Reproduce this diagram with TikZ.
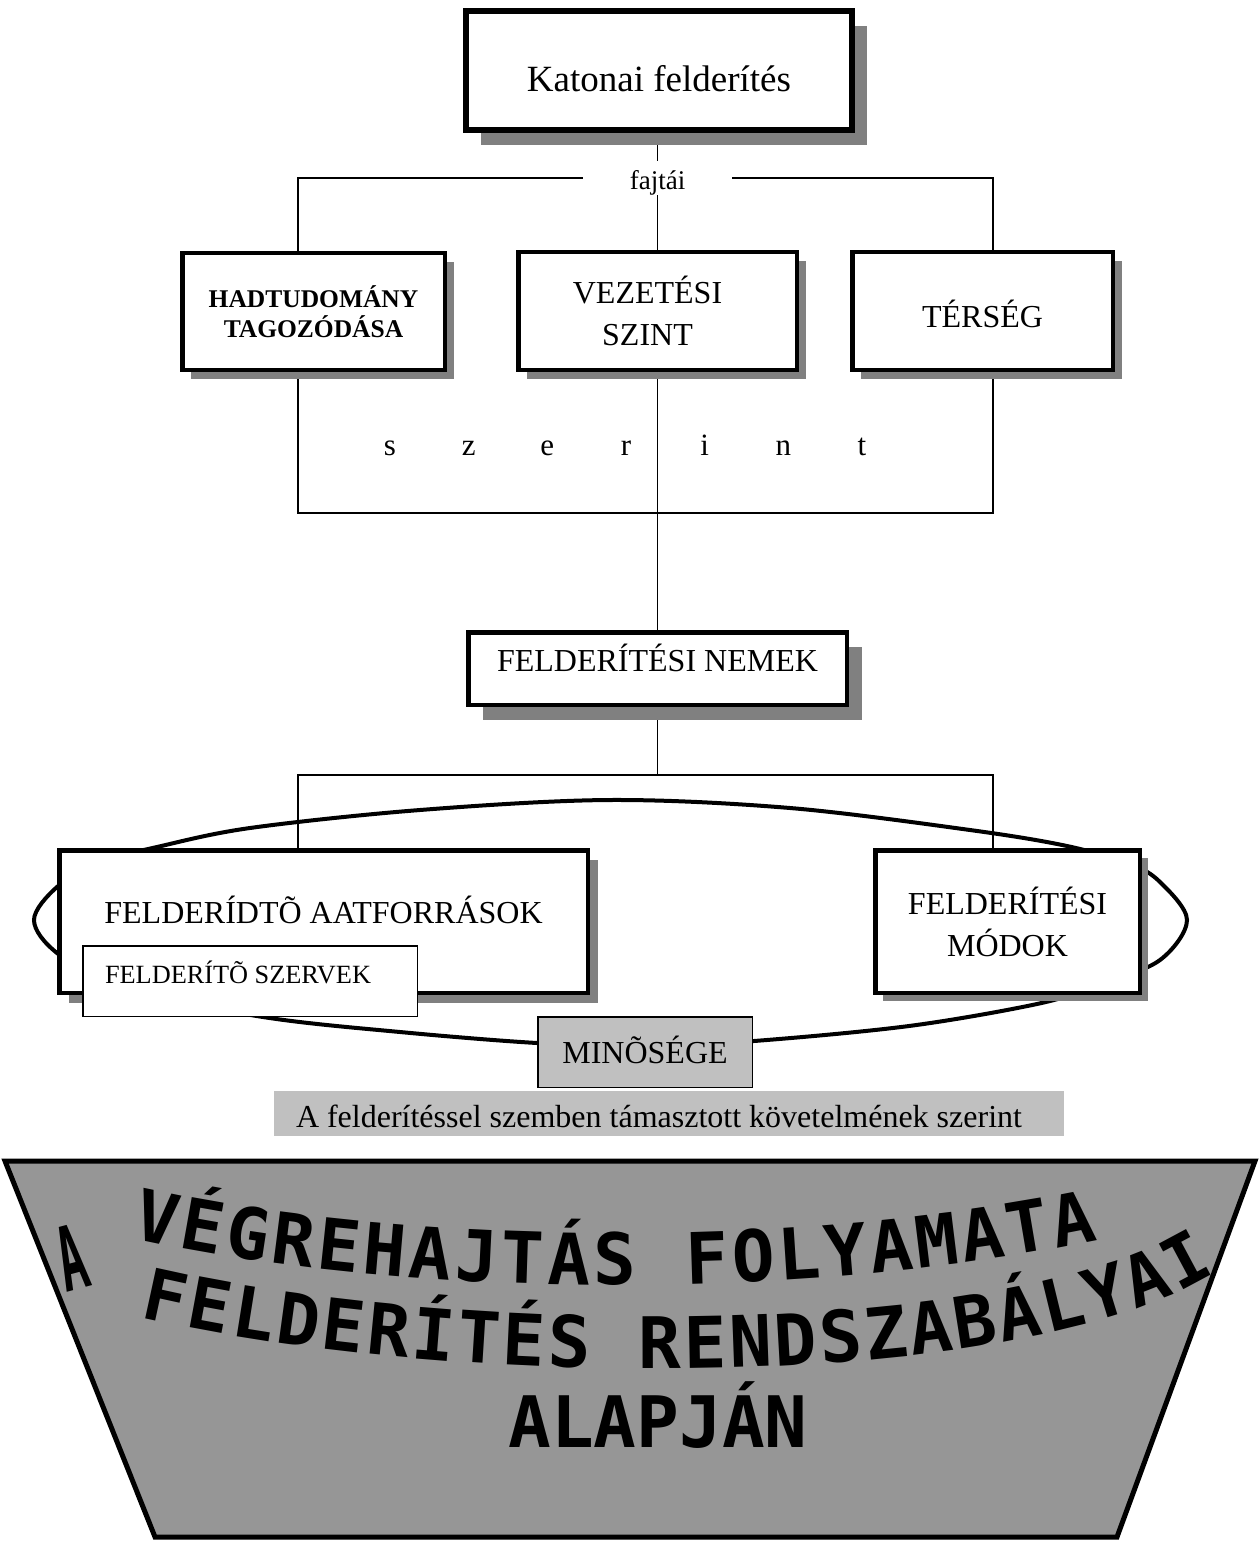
\documentclass[tikz,border=0pt]{standalone}
\usepackage{fontspec}
\setmainfont{Liberation Serif}
\newfontfamily\wfont{DejaVu Sans Mono}
\usetikzlibrary{shadows,decorations.text,backgrounds}
\definecolor{shgray}{RGB}{128,128,128}
\definecolor{lgray}{RGB}{192,192,192}
\definecolor{tgray}{RGB}{150,150,150}
\newcommand{\wfsize}{\wfont\bfseries\fontsize{71}{76}\selectfont}
\begin{document}
\begin{tikzpicture}[x=1pt,y=-1pt,
  link/.style={line width=1.5pt},
  sbox/.style={draw, line width=4.5pt, fill=white, inner sep=0pt, align=center,
     general shadow={fill=shgray, shadow xshift=#1, shadow yshift=-#1}},
  sbox/.default=9pt,
  lbl/.style={font=\fontsize{32}{42}\selectfont},
  thinbox/.style={draw, line width=1.5pt, inner sep=0pt},
  wtext/.style={font=\wfsize},
]
\useasboundingbox (0,0) rectangle (1259,1546);

% boxes
\node[sbox=15pt, line width=6pt, minimum width=386pt, text height=81pt, text depth=38pt,
      font=\fontsize{37}{44}\selectfont] (top) at (659,70.5) {Katonai felderítés};
\node[inner sep=0pt, minimum width=149pt, text height=29pt, text depth=5pt,
      font=\fontsize{27}{32}\selectfont] (fajtai) at (657.5,178) {fajtái};
\node[sbox, minimum width=262.5pt, minimum height=116.5pt,
      font=\bfseries\fontsize{25.5}{30}\selectfont] (had) at (313.5,311.5) {HADTUDOMÁNY\\TAGOZÓDÁSA};
\node[sbox, lbl, minimum width=278.5pt, minimum height=117.5pt] (vez) at (657.5,311)
  {VEZETÉSI\hspace*{20pt}\\SZINT\hspace*{20pt}};
\node[sbox, lbl, minimum width=260.5pt, text height=74.75pt, text depth=42.75pt] (ter) at (982.5,311) {TÉRSÉG};
\node[font=\fontsize{31}{36}\selectfont, anchor=base, inner sep=0pt] (szerint) at (626,455)
  {\makebox[78.67pt]{s}\makebox[78.67pt]{z}\makebox[78.67pt]{e}\makebox[78.67pt]{r}\makebox[78.67pt]{i}\makebox[78.67pt]{n}\makebox[78.67pt]{t}};
\node[sbox=15pt, lbl, minimum width=378.5pt, text height=38.75pt, text depth=33.75pt] (nemek) at (657.5,668.5) {FELDERÍTÉSI NEMEK};

\coordinate (cL) at (298,513);
\coordinate (cR) at (993,513);
\coordinate (dL) at (298,775);
\coordinate (dR) at (993,775);

\node[sbox=10pt, lbl, minimum width=528.5pt, text height=72.75pt, text depth=69.75pt] (aatf) at (323.5,921.5) {FELDERÍDTÕ AATFORRÁSOK};
\node[thinbox, fill=white, text height=37.75pt, text depth=32.75pt, font=\fontsize{26.3}{30}\selectfont] (szervek) at (250,981)
  {\makebox[334.5pt][l]{\hspace{22.25pt}FELDERÍTÕ SZERVEK}};
\node[sbox=8pt, lbl, minimum width=264.5pt, minimum height=142.5pt] (modok) at (1007.5,921.5) {FELDERÍTÉSI\\MÓDOK};

\node[inner sep=0pt, fill=lgray, text height=36pt, text depth=9pt, lbl] (band) at (669,1113.5)
  {\makebox[790pt][l]{\hspace{22pt}A felderítéssel szemben támasztott követelmének szerint}};
\node[thinbox, fill=lgray, lbl, minimum width=214.5pt, text height=46.25pt, text depth=24.25pt] (min) at (645,1052) {MINÕSÉGE};

\begin{pgfonlayer}{background}
  % ring
  \draw[line width=4pt] plot[smooth cycle, tension=0.55] coordinates {
    (610,800) (790,808) (970,830) (1067,846) (1130,864) (1160,882) (1187,920) (1160,960)
    (1100,985) (1037,1004) (909,1026) (754,1041) (645,1046) (537,1043) (400,1032)
    (263,1017) (120,988) (57,953) (34,920) (57,887) (100,862) (157,847) (250,828) (420,810)};
  % connectors
  \draw[link] (fajtai.north |- top.south) -- (fajtai.north);
  \draw[link] (fajtai.west) -| (had.north -| cL);
  \draw[link] (fajtai.east) -| (ter.north -| cR);
  \draw[link] (fajtai.south) -- (vez.north);
  \draw[link] (had.south -| cL) -- (cL) -- (cR) -- (ter.south -| cR);
  \draw[link] (vez.south) -- (nemek.north);
  \draw[link] (nemek.south) -- (nemek.south |- dL);
  \draw[link] (aatf.north -| dL) -- (dL) -- (dR) -- (modok.north -| dR);
\end{pgfonlayer}

% bottom trapezoid
\draw[line width=5pt, fill=tgray] (5,1161) -- (1255,1161) -- (1117,1537) -- (155,1537) -- cycle;
\node[wtext, rotate=15, inner sep=0pt] (wa) at (72,1258) {\scalebox{0.65}[1.25]{A}};
\path[decorate, decoration={text along path, text align=fit to path,
   text={|\wfsize|VÉGREHAJTÁS FOLYAMATA}}]
   (132,1238) .. controls (400,1298) and (800,1302) .. (1098,1240);
\path[decorate, decoration={text along path, text align=fit to path,
   text={|\wfsize|FELDERÍTÉS RENDSZABÁLYAI}}]
   (140,1317) .. controls (450,1390) and (1020,1395) .. (1215,1272);
\node[wtext, anchor=base, inner sep=0pt] (alap) at (658,1447) {ALAPJÁN};
\end{tikzpicture}
\end{document}
